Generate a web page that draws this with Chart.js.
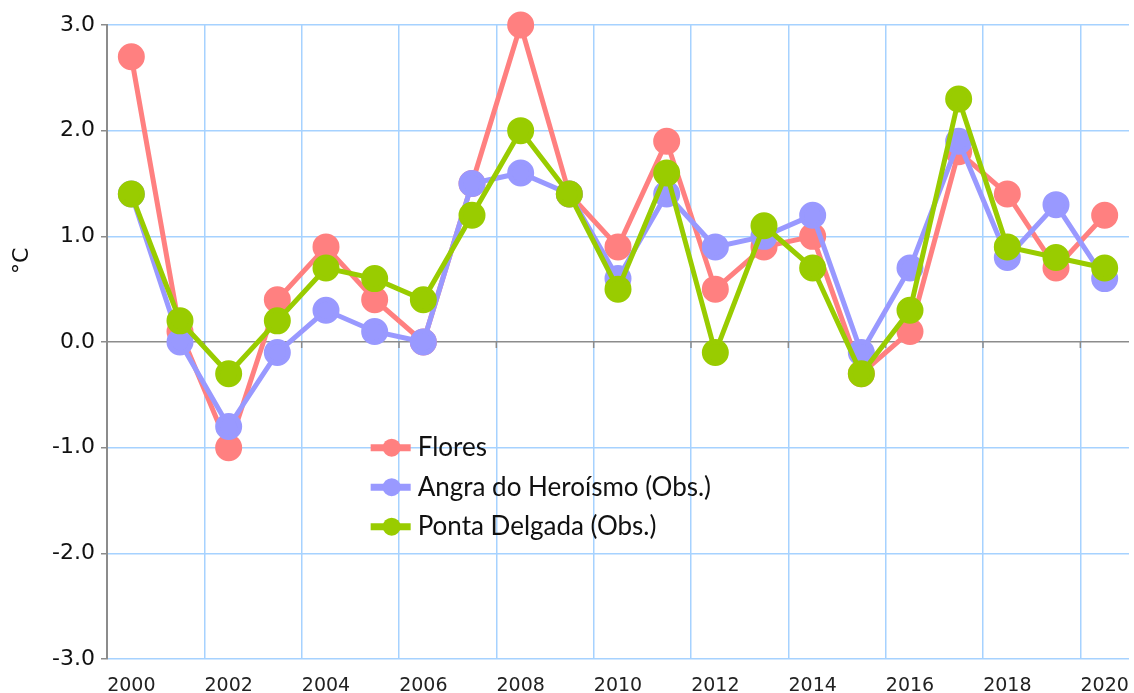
<!DOCTYPE html>
<html>
<head>
<meta charset="utf-8">
<script src="https://cdn.jsdelivr.net/npm/chart.js@4"></script>
<style>
  html, body { margin: 0; padding: 0; background: #fff; }
  #wrap { width: 1134px; height: 693px; }
</style>
</head>
<body>
<div id="wrap"><canvas id="tempChart" width="1134" height="693"></canvas></div>
<script>
var years = ['2000', '2001', '2002', '2003', '2004', '2005', '2006', '2007', '2008', '2009', '2010',
             '2011', '2012', '2013', '2014', '2015', '2016', '2017', '2018', '2019', '2020'];
var flores = [2.7, 0.1, -1.0, 0.4, 0.9, 0.4, 0.0, 1.5, 3.0, 1.4, 0.9, 1.9, 0.5, 0.9, 1.0, -0.3, 0.1, 1.8, 1.4, 0.7, 1.2];
var angra = [1.4, 0.0, -0.8, -0.1, 0.3, 0.1, 0.0, 1.5, 1.6, 1.4, 0.6, 1.4, 0.9, 1.0, 1.2, -0.1, 0.7, 1.9, 0.8, 1.3, 0.6];
var pontaDelgada = [1.4, 0.2, -0.3, 0.2, 0.7, 0.6, 0.4, 1.2, 2.0, 1.4, 0.5, 1.6, -0.1, 1.1, 0.7, -0.3, 0.3, 2.3, 0.9, 0.8, 0.7];
var yTicks = [-3, -2, -1, 0, 1, 2, 3];

var blueGrid = '#a6d2ff';
var axisGray = '#8c8c8c';

function series(label, data, color, order) {
    return {
        label: label,
        data: data,
        borderColor: color,
        backgroundColor: color,
        pointBackgroundColor: color,
        pointBorderColor: color,
        pointRadius: 11,
        pointHoverRadius: 11,
        borderWidth: 5,
        tension: 0,
        clip: false,
        order: order
    };
}

// legend drawn inside the plot area, plus the y title placed like the original
var insideLegend = {
    id: 'insideLegend',
    afterDraw: function (chart) {
        var c = chart.ctx;
        var x = chart.scales.x;
        var y = chart.scales.y;
        var left = x.getPixelForValue(5) - 4;
        var top = y.getPixelForValue(-1.0);
        var rows = [chart.data.datasets[0], chart.data.datasets[1], chart.data.datasets[2]];
        c.save();
        rows.forEach(function (ds, i) {
            var cy = top + i * 39.5;
            c.strokeStyle = ds.borderColor;
            c.lineWidth = 7;
            c.beginPath();
            c.moveTo(left, cy);
            c.lineTo(left + 40, cy);
            c.stroke();
            c.fillStyle = ds.borderColor;
            c.beginPath();
            c.arc(left + 21, cy, 9, 0, Math.PI * 2);
            c.fill();
            c.fillStyle = '#111';
            c.font = '26px Lato';
            c.textBaseline = 'middle';
            c.fillText(ds.label, left + 47, cy);
        });

        // y axis title
        var area = chart.chartArea;
        c.translate(22, area.top + (area.bottom - area.top) * 0.372);
        c.rotate(-Math.PI / 2);
        c.font = '22px "DejaVu Sans"';
        c.textAlign = 'center';
        c.textBaseline = 'middle';
        c.fillText('°C', 0, 0);
        c.restore();
    }
};

// small tick marks hanging under the zero line
var zeroTicks = {
    id: 'zeroTicks',
    beforeDatasetsDraw: function (chart) {
        var c = chart.ctx;
        var x = chart.scales.x;
        var y0 = chart.scales.y.getPixelForValue(0);
        c.save();
        c.strokeStyle = axisGray;
        c.lineWidth = 1.5;
        for (var i = 2; i < years.length; i += 2) {
            var px = (x.getPixelForValue(i - 1) + x.getPixelForValue(i)) / 2;
            c.beginPath();
            c.moveTo(px, y0);
            c.lineTo(px, y0 + 6);
            c.stroke();
        }
        c.restore();
    }
};

var ctx = document.getElementById('tempChart').getContext('2d');
var myChart = new Chart(ctx, {
    type: 'line',
    data: {
        labels: years,
        datasets: [
            series('Flores', flores, '#ff8080', 3),
            series('Angra do Heroísmo (Obs.)', angra, '#9999ff', 2),
            series('Ponta Delgada (Obs.)', pontaDelgada, '#99cc00', 1)
        ]
    },
    options: {
        responsive: false,
        animation: false,
        layout: { autoPadding: false, padding: { top: 25, right: 5, left: 0, bottom: 0 } },
        plugins: {
            legend: { display: false },
            tooltip: { enabled: false }
        },
        scales: {
            x: {
                offset: true,
                border: { display: false },
                grid: {
                    offset: true,
                    drawTicks: true,
                    tickLength: 16,
                    tickColor: 'rgba(0,0,0,0)',
                    lineWidth: 1.5,
                    color: function (c) {
                        return c.index % 2 === 0 ? blueGrid : 'rgba(0,0,0,0)';
                    }
                },
                ticks: {
                    autoSkip: false,
                    maxRotation: 0,
                    padding: 0,
                    color: '#222',
                    font: { family: 'DejaVu Sans', size: 19 },
                    callback: function (v, i) {
                        return i % 2 === 0 ? years[i] : '';
                    }
                },
                afterFit: function (s) { s.height = 34; }
            },
            y: {
                min: -3,
                max: 3,
                afterBuildTicks: function (s) {
                    s.ticks = yTicks.map(function (v) { return { value: v }; });
                },
                border: { display: true, color: axisGray, width: 2 },
                grid: {
                    lineWidth: 1.5,
                    tickLength: 6,
                    tickColor: axisGray,
                    color: function (c) {
                        return c.tick && c.tick.value === 0 ? axisGray : blueGrid;
                    }
                },
                ticks: {
                    padding: 6,
                    color: '#111',
                    font: { family: 'DejaVu Sans', size: 22 },
                    callback: function (v) { return v.toFixed(1); }
                },
                afterFit: function (s) { s.width = 107; }
            }
        }
    },
    plugins: [zeroTicks, insideLegend]
});
</script>
</body>
</html>
